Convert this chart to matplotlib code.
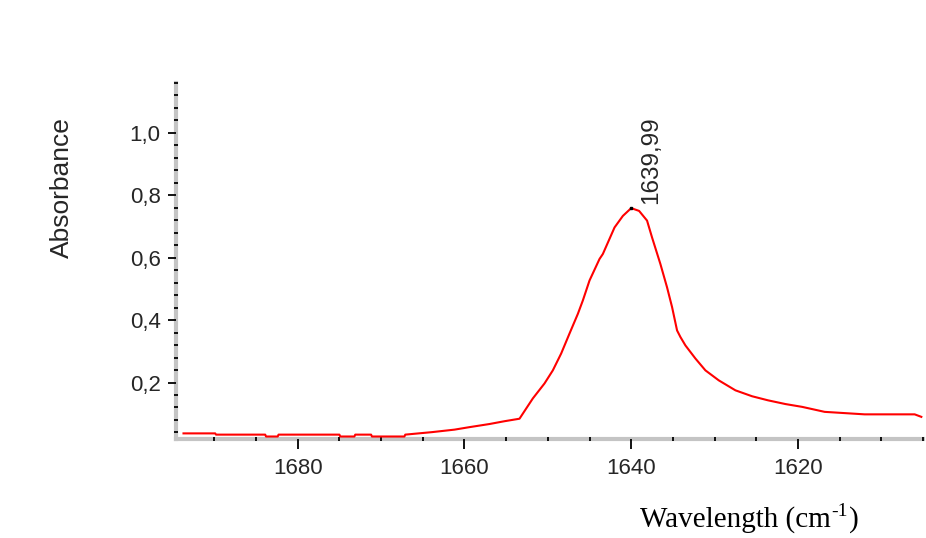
import matplotlib
matplotlib.use("Agg")
import matplotlib.pyplot as plt
from matplotlib.ticker import MultipleLocator, FuncFormatter

# Data
wavenumber = [1693.7, 1689.9, 1689.8, 1683.9, 1683.8, 1682.4, 1682.3, 1675.0, 1674.9,
              1673.2, 1673.1, 1671.2, 1671.1, 1667.2, 1667.1, 1663.9, 1661.2, 1659.4,
              1657.0, 1655.2, 1653.4, 1651.8, 1650.4, 1649.4, 1648.4, 1647.4, 1646.4,
              1645.8, 1645.0, 1643.8, 1643.4, 1642.0, 1641.0, 1640.0, 1639.05, 1638.1,
              1637.5, 1636.5, 1635.7, 1635.1, 1634.5, 1634.1, 1633.5, 1632.3, 1631.1,
              1629.5, 1627.5, 1625.5, 1623.6, 1621.5, 1619.5, 1616.8, 1612.0, 1606.0,
              1605.2]
absorbance = [0.037, 0.037, 0.033, 0.033, 0.027, 0.027, 0.033, 0.033, 0.027,
              0.027, 0.033, 0.033, 0.027, 0.027, 0.033, 0.041, 0.049, 0.057,
              0.067, 0.076, 0.084, 0.149, 0.197, 0.239, 0.293, 0.357, 0.420,
              0.463, 0.527, 0.596, 0.612, 0.697, 0.734, 0.759, 0.750, 0.719,
              0.665, 0.580, 0.505, 0.442, 0.367, 0.346, 0.319, 0.277, 0.239,
              0.207, 0.175, 0.156, 0.143, 0.131, 0.122, 0.106, 0.098, 0.098,
              0.090]
x_major_ticks = [1680, 1660, 1640, 1620]
y_major_ticks = [0.2, 0.4, 0.6, 0.8, 1.0]
peak_position = 1639.99
peak_value = 0.759
peak_label = "1639,99"

plt.rcParams['font.family'] = ['Liberation Sans', 'DejaVu Sans']

fig = plt.figure(figsize=(9.26, 5.38), dpi=100)
ax = fig.add_axes([176 / 926, 1 - 439 / 538, (923 - 176) / 926, (439 - 83) / 538])

ax.plot(wavenumber, absorbance, color='#ff0000', lw=1.5, zorder=3)
ax.plot([peak_position], [peak_value], marker='s', ms=1.5, color='black', zorder=4)

ax.set_xlim(1694.6, 1605.0)
ax.set_ylim(0.019, 1.16)

for s in ['top', 'right']:
    ax.spines[s].set_visible(False)
for s in ['left', 'bottom']:
    ax.spines[s].set_color('#c4c4c4')
    ax.spines[s].set_linewidth(3.0)
    ax.spines[s].set_zorder(1)
ax.set_axisbelow(False)

ax.set_xticks(x_major_ticks)
ax.xaxis.set_minor_locator(MultipleLocator(5))
ax.set_yticks(y_major_ticks)
ax.yaxis.set_minor_locator(MultipleLocator(0.04))
ax.yaxis.set_major_formatter(FuncFormatter(lambda v, p: f"{v:.1f}".replace('.', ',')))
ax.xaxis.set_major_formatter(FuncFormatter(lambda v, p: f"{v:.0f}"))

ax.tick_params(axis='both', which='major', direction='out', length=7, width=1.3,
               color='black', labelsize=16, labelcolor='#262626')
ax.tick_params(axis='y', which='major', length=6, pad=5)
ax.tick_params(axis='x', which='major', pad=7)
ax.tick_params(axis='both', which='minor', direction='inout', length=3, width=1.3,
               color='black')

ax.annotate(peak_label, xy=(peak_position, peak_value), xytext=(9, 4),
            textcoords='offset pixels', rotation=90, ha='left', va='bottom',
            fontsize=17.5, color='#262626')

fig.text(62 / 926, 1 - 188 / 538, "Absorbance", rotation=90, ha='center', va='center',
         fontsize=19, color='#262626')

# x-axis title composed of pieces: "Wavelength (cm" + superscript "-1" + ")"
t1 = fig.text(640 / 926, 1 - 533 / 538, "Wavelength (cm", ha='left', va='bottom',
              fontsize=21, family='Liberation Serif', color='black')
t2 = fig.text(0, 0, "-1", fontsize=14, family='Liberation Serif', color='black',
              ha='left', va='bottom')
t2.set_transform(matplotlib.transforms.IdentityTransform())
fig.canvas.draw()
r = fig.canvas.get_renderer()
bb1 = t1.get_window_extent(r)
t2.set_position((bb1.x1 + 1, bb1.y0 + bb1.height * 0.48))
fig.canvas.draw()
bb2 = t2.get_window_extent(r)
t3 = fig.text(0, 0, ")", fontsize=21, family='Liberation Serif', color='black',
              ha='left', va='bottom')
t3.set_transform(matplotlib.transforms.IdentityTransform())
t3.set_position((bb2.x1 + 1, bb1.y0))

fig.savefig("out.png", dpi=100)
